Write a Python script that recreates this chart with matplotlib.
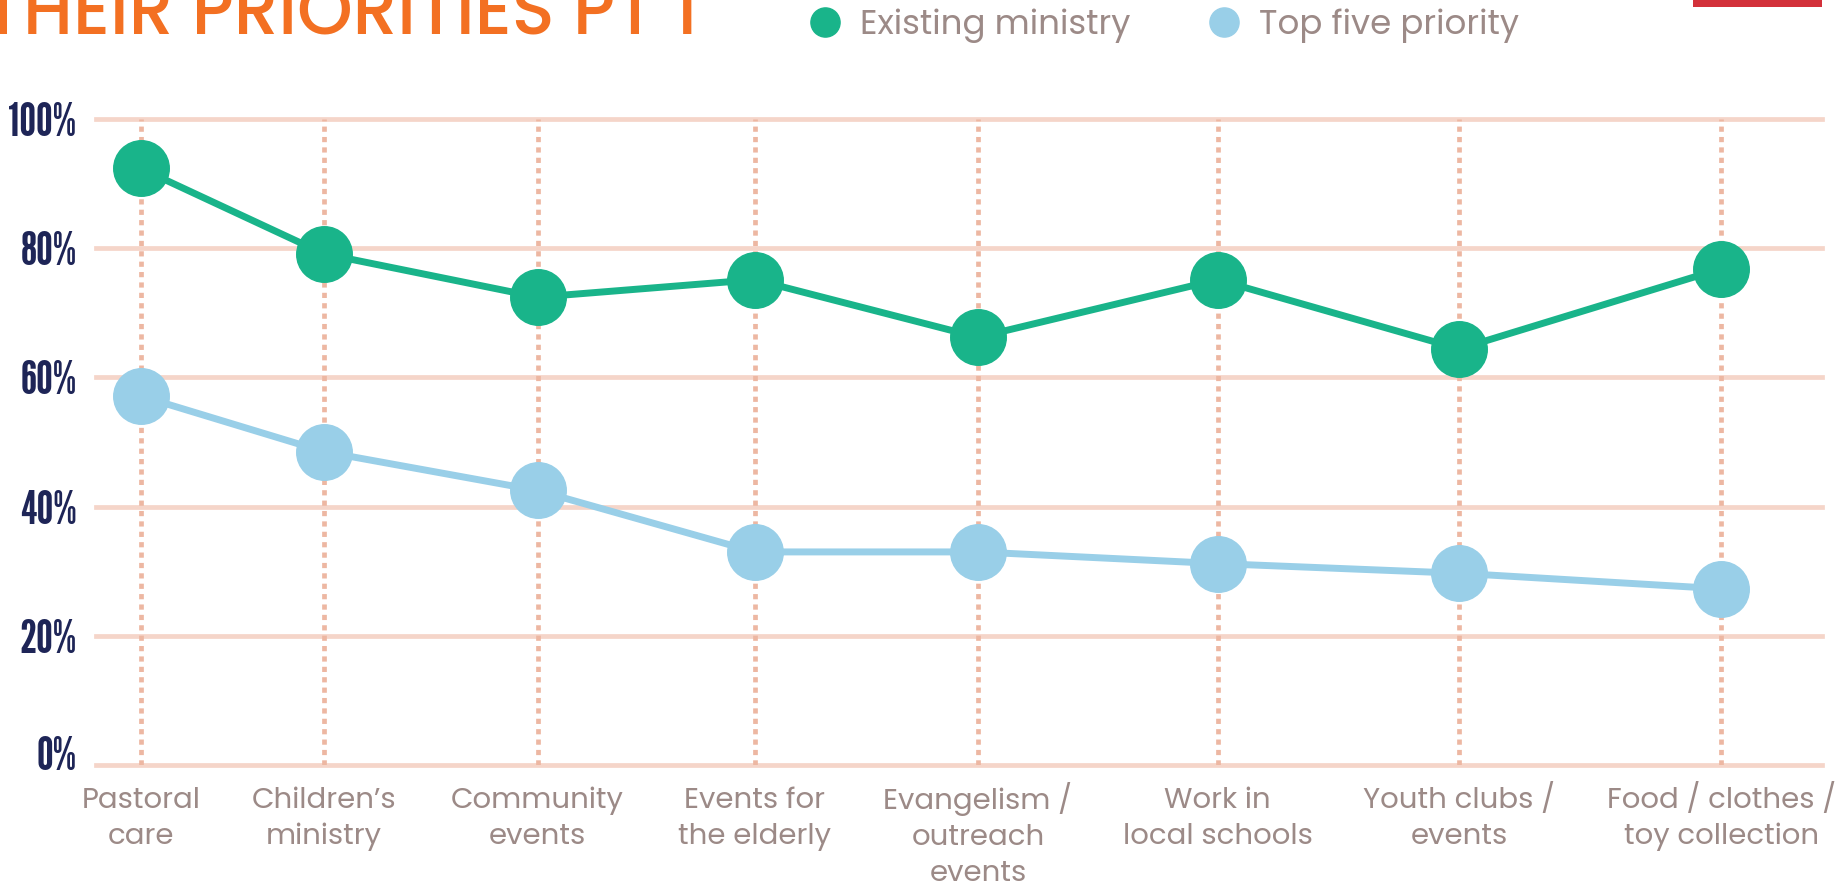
import matplotlib
matplotlib.use('Agg')
import matplotlib.pyplot as plt
from matplotlib.lines import Line2D
from matplotlib.patches import Rectangle
from matplotlib.transforms import ScaledTranslation

# data
categories = ["Pastoral\ncare", "Children\u2019s\nministry", "Community\nevents",
              "Events for\nthe elderly", "Evangelism /\noutreach\nevents",
              "Work in\nlocal schools", "Youth clubs /\nevents", "Food / clothes /\ntoy collection"]
existing = [92.3, 79.1, 72.4, 75.1, 66.2, 75.1, 64.4, 76.8]
top_five = [57.1, 48.5, 42.5, 33.0, 33.0, 31.2, 29.7, 27.3]
series_names = ["Existing ministry", "Top five priority"]
yticks = [0, 20, 40, 60, 80, 100]
ytick_labels = ["0%", "20%", "40%", "60%", "80%", "100%"]
title = "THEIR PRIORITIES PT 1"

# layout: category centres across the plot width (0..1)
cat_pos = [0.026, 0.1322, 0.2559, 0.3817, 0.511, 0.6498, 0.7899, 0.9416]

green = "#19B48A"
blue = "#99CFE8"
grid_c = "#F5D5C9"
dot_c = "#EDB7A2"
navy = "#1E2557"
label_c = "#9C8A87"
orange = "#F37022"

sans = ['Poppins', 'Open Sans', 'DejaVu Sans']
narrow = ['League Gothic', 'Bebas Neue', 'Antonio', 'Oswald', 'DejaVu Sans']

W, H = 1841, 882
fig = plt.figure(figsize=(W/100, H/100), dpi=100)
ax = fig.add_axes([96/W, 116.7/H, 1726/W, 646.6/H])
ax.set_xlim(0, 1)
ax.set_ylim(0, 100)

for v in yticks:
    ax.axhline(v, color=grid_c, lw=3.4, zorder=1, clip_on=False)
ax.vlines(cat_pos, 0, 100, colors=dot_c, lw=3.4, linestyles=(0, (1.1, 1.1)), zorder=2)

ax.plot(cat_pos, existing, color=green, lw=5, marker='o', ms=40, zorder=4, clip_on=False)
ax.plot(cat_pos, top_five, color=blue, lw=5, marker='o', ms=40, zorder=3, clip_on=False)

for s in ax.spines.values():
    s.set_visible(False)

ax.set_yticks(yticks, ytick_labels)
ax.tick_params(axis='y', length=0, pad=14)
for lbl in ax.get_yticklabels():
    lbl.set_fontfamily(narrow)
    lbl.set_fontsize(34)
    lbl.set_color(navy)
# the 0% label sits a little above its gridline
zero = ax.get_yticklabels()[0]
zero.set_transform(zero.get_transform() + ScaledTranslation(0, 12/100, fig.dpi_scale_trans))

# category labels; baseline alignment uses the last line, so step down per extra line
ax.set_xticks(cat_pos, [])
ax.tick_params(axis='x', length=0)
first_base = -30.8   # points below the 0% line
line_step = 26.2
for x, lab in zip(cat_pos, categories):
    n_extra = lab.count('\n')
    ax.annotate(lab, xy=(x, 0), xycoords=('data', 'axes fraction'),
                xytext=(0, first_base - n_extra*line_step), textcoords='offset points',
                ha='center', va='baseline', multialignment='center',
                fontfamily=sans, fontsize=21, color=label_c, linespacing=1.38)

# title, clipped at the top edge like the source
fig.text(-17/W, 1 - 34/H, title, color=orange, fontsize=51, fontfamily=sans,
         fontweight='medium', va='baseline', ha='left')

# red bar top right
fig.add_artist(Rectangle((1693/W, 1 - 7/H), 129/W, 7/H, transform=fig.transFigure,
                         color="#D3313A", lw=0))

handles = [Line2D([], [], ls='none', marker='o', ms=21, color=green),
           Line2D([], [], ls='none', marker='o', ms=21, color=blue)]
leg = fig.legend(handles, series_names, loc='center left', bbox_to_anchor=(808/W, 1 - 26/H),
                 ncol=2, frameon=False, handlelength=1.0, handletextpad=0.53,
                 columnspacing=2.26, borderpad=0, borderaxespad=0,
                 prop={'family': sans, 'size': 24.5})
for t in leg.get_texts():
    t.set_color(label_c)

fig.savefig("out.png", dpi=100)
